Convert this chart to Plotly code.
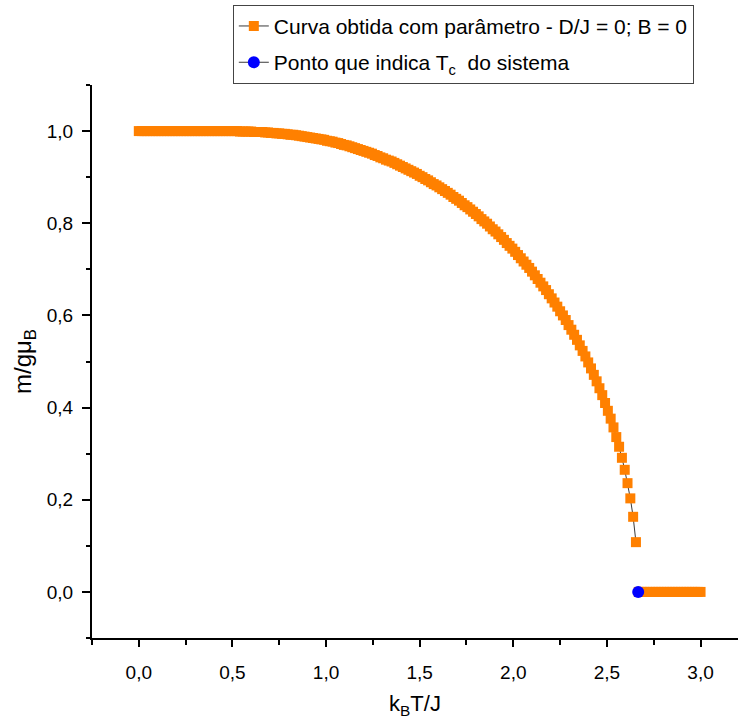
import plotly.graph_objects as go

# Reduced temperature k_B T / J for the ordered branch (below T_c)
temp_ordered = [
    0.000, 0.015, 0.030, 0.045, 0.060, 0.075, 0.090, 0.105, 0.120, 0.135,
    0.150, 0.165, 0.180, 0.195, 0.210, 0.225, 0.240, 0.255, 0.270, 0.285,
    0.300, 0.315, 0.330, 0.345, 0.360, 0.375, 0.390, 0.405, 0.420, 0.435,
    0.450, 0.465, 0.480, 0.495, 0.510, 0.525, 0.540, 0.555, 0.570, 0.585,
    0.600, 0.615, 0.630, 0.645, 0.660, 0.675, 0.690, 0.705, 0.720, 0.735,
    0.750, 0.765, 0.780, 0.795, 0.810, 0.825, 0.840, 0.855, 0.870, 0.885,
    0.900, 0.915, 0.930, 0.945, 0.960, 0.975, 0.990, 1.005, 1.020, 1.035,
    1.050, 1.065, 1.080, 1.095, 1.110, 1.125, 1.140, 1.155, 1.170, 1.185,
    1.200, 1.215, 1.230, 1.245, 1.260, 1.275, 1.290, 1.305, 1.320, 1.335,
    1.350, 1.365, 1.380, 1.395, 1.410, 1.425, 1.440, 1.455, 1.470, 1.485,
    1.500, 1.515, 1.530, 1.545, 1.560, 1.575, 1.590, 1.605, 1.620, 1.635,
    1.650, 1.665, 1.680, 1.695, 1.710, 1.725, 1.740, 1.755, 1.770, 1.785,
    1.800, 1.815, 1.830, 1.845, 1.860, 1.875, 1.890, 1.905, 1.920, 1.935,
    1.950, 1.965, 1.980, 1.995, 2.010, 2.025, 2.040, 2.055, 2.070, 2.085,
    2.100, 2.115, 2.130, 2.145, 2.160, 2.175, 2.190, 2.205, 2.220, 2.235,
    2.250, 2.265, 2.280, 2.295, 2.310, 2.325, 2.340, 2.355, 2.370, 2.385,
    2.400, 2.415, 2.430, 2.445, 2.460, 2.475, 2.490, 2.505, 2.520, 2.535,
    2.550, 2.565, 2.580, 2.595, 2.610, 2.625, 2.640, 2.655,
]

# Magnetization m / g mu_B on the ordered branch
mag_ordered = [
    1.000, 1.000, 1.000, 1.000, 1.000, 1.000, 1.000, 1.000, 1.000, 1.000,
    1.000, 1.000, 1.000, 1.000, 1.000, 1.000, 1.000, 1.000, 1.000, 1.000,
    1.000, 1.000, 1.000, 1.000, 1.000, 1.000, 1.000, 1.000, 1.000, 1.000,
    1.000, 1.000, 1.000, 1.000, 1.000, 1.000, 0.999, 0.999, 0.999, 0.999,
    0.999, 0.998, 0.998, 0.998, 0.998, 0.997, 0.997, 0.996, 0.996, 0.995,
    0.995, 0.994, 0.994, 0.993, 0.992, 0.992, 0.991, 0.990, 0.989, 0.988,
    0.987, 0.986, 0.985, 0.984, 0.983, 0.982, 0.981, 0.979, 0.978, 0.977,
    0.975, 0.974, 0.972, 0.970, 0.969, 0.967, 0.965, 0.963, 0.961, 0.959,
    0.957, 0.955, 0.953, 0.951, 0.948, 0.946, 0.943, 0.941, 0.938, 0.936,
    0.934, 0.931, 0.928, 0.925, 0.922, 0.919, 0.916, 0.913, 0.910, 0.907,
    0.903, 0.900, 0.896, 0.893, 0.889, 0.885, 0.882, 0.878, 0.874, 0.870,
    0.866, 0.862, 0.857, 0.853, 0.849, 0.844, 0.839, 0.835, 0.830, 0.825,
    0.820, 0.815, 0.809, 0.804, 0.799, 0.793, 0.787, 0.782, 0.776, 0.770,
    0.764, 0.757, 0.751, 0.745, 0.738, 0.731, 0.724, 0.717, 0.710, 0.703,
    0.695, 0.687, 0.679, 0.671, 0.663, 0.655, 0.646, 0.637, 0.628, 0.619,
    0.609, 0.600, 0.590, 0.579, 0.569, 0.558, 0.547, 0.535, 0.523, 0.511,
    0.498, 0.485, 0.471, 0.457, 0.442, 0.427, 0.410, 0.393, 0.376, 0.357,
    0.336, 0.315, 0.291, 0.265, 0.236, 0.203, 0.163, 0.108,
]

# Disordered branch (above T_c): magnetization vanishes
temp_disordered = [
    2.670, 2.685, 2.700, 2.715, 2.730, 2.745, 2.760, 2.775, 2.790, 2.805,
    2.820, 2.835, 2.850, 2.865, 2.880, 2.895, 2.910, 2.925, 2.940, 2.955,
    2.970, 2.985, 3.000,
]
mag_disordered = [
    0.0, 0.0, 0.0, 0.0, 0.0, 0.0, 0.0, 0.0, 0.0, 0.0,
    0.0, 0.0, 0.0, 0.0, 0.0, 0.0, 0.0, 0.0, 0.0, 0.0,
    0.0, 0.0, 0.0,
]

# Critical temperature marker
tc_temp = [2.667]
tc_mag = [0.0]

FONT = "Liberation Sans, Arial, sans-serif"

fig = go.Figure()

fig.add_trace(go.Scatter(
    x=temp_ordered + [None] + temp_disordered,
    y=mag_ordered + [None] + mag_disordered,
    mode="lines+markers",
    name="Curva obtida com parâmetro - D/J = 0; B = 0",
    legendgroup="curve",
    line=dict(color="#3a3a3a", width=1),
    marker=dict(symbol="square", size=10, color="#FF8000", line=dict(width=0)),
    connectgaps=False,
))

fig.add_trace(go.Scatter(
    x=tc_temp,
    y=tc_mag,
    mode="lines+markers",
    name="Ponto que indica T<sub>c</sub>  do sistema",
    legendgroup="tc",
    line=dict(color="#3a3a3a", width=1),
    marker=dict(symbol="circle", size=12, color="#0000FF", line=dict(width=0)),
))

axis_common = dict(
    showline=True, linecolor="black", linewidth=2,
    ticks="outside", tickcolor="black", tickwidth=2,
    showgrid=False, zeroline=False, mirror=False,
    tickfont=dict(family=FONT, size=19, color="black"),
    tickformat=".1f",
)

fig.update_xaxes(
    range=[-0.25, 3.2], dtick=0.5, tick0=0, ticklen=7,
    minor=dict(dtick=0.25, tick0=0, ticks="outside", ticklen=5,
               tickwidth=2, tickcolor="black"),
    title=dict(text="k<sub>B</sub>T/J", font=dict(family=FONT, size=22, color="black"),
               standoff=14),
    ticklabelstandoff=9,
    **axis_common,
)
fig.update_yaxes(
    range=[-0.1, 1.1], dtick=0.2, tick0=0, ticklen=8,
    minor=dict(dtick=0.1, tick0=0, ticks="outside", ticklen=4,
               tickwidth=2, tickcolor="black"),
    title=dict(text="m/gμ<sub>B</sub>", font=dict(family=FONT, size=24, color="black"),
               standoff=8),
    ticklabelstandoff=5,
    **axis_common,
)

fig.update_layout(
    width=738, height=725, autosize=False,
    margin=dict(l=92, r=0, t=85, b=87, autoexpand=False),
    paper_bgcolor="white", plot_bgcolor="white",
    separators=",.",
    showlegend=True,
    legend=dict(
        x=0.218, y=1.145, xanchor="left", yanchor="top",
        bgcolor="white", bordercolor="#444444", borderwidth=1,
        font=dict(family=FONT, size=21, color="black"),
        traceorder="grouped", tracegroupgap=6,
    ),
    font=dict(family=FONT, color="black"),
)

fig.write_html("out.html")
